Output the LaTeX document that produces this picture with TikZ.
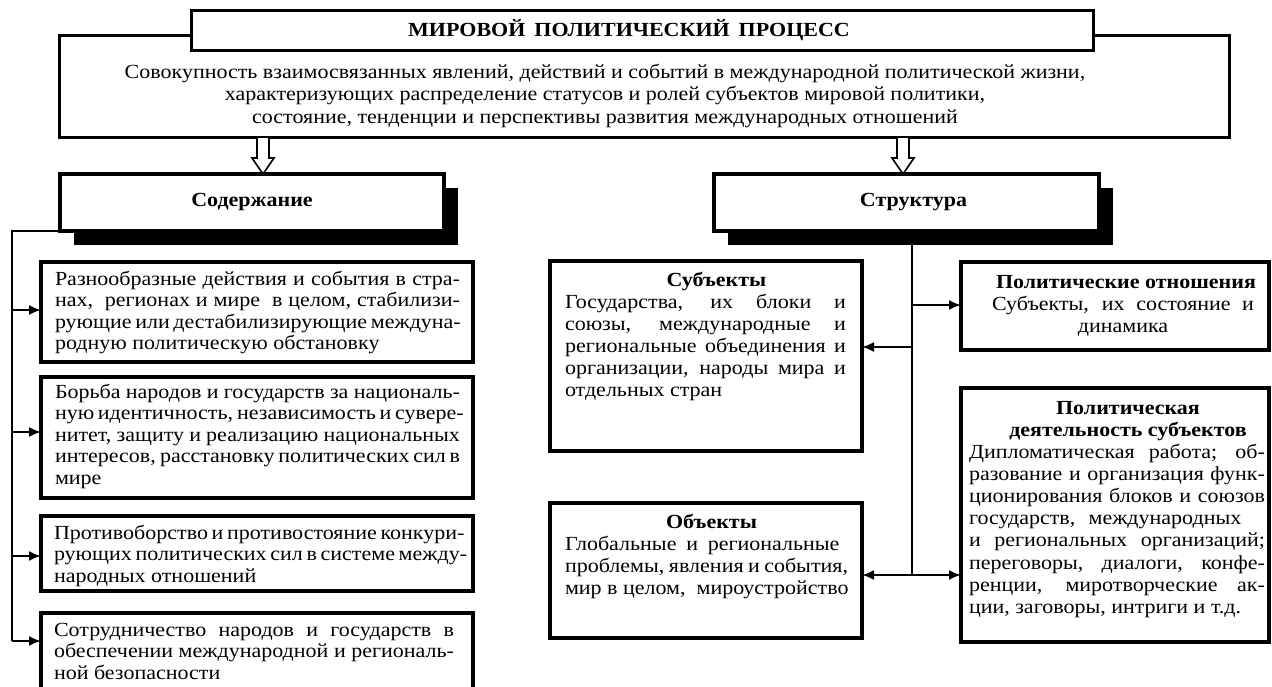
\documentclass[tikz,border=0pt]{standalone}
\usepackage{fontspec}
\setmainfont{Liberation Serif}[FakeStretch=1.1]
\usetikzlibrary{arrows.meta,shadows}
\newcommand\JL[1]{\makebox[\linewidth][s]{\spaceskip=0pt\xspaceskip=0pt\relax#1}}
\newcommand\NL[1]{\makebox[\linewidth][l]{\spaceskip=0pt\xspaceskip=0pt\relax#1}}
\newcommand\CL[1]{\makebox[\linewidth][c]{\spaceskip=0pt\xspaceskip=0pt\relax#1}}
\begin{document}
\begin{tikzpicture}[x=1pt,y=-1pt,
  every node/.style={inner sep=0pt, outer sep=0pt},
  frame/.style={draw, line width=4pt, fill=white, anchor=north west},
  thinframe/.style={draw, line width=3pt, fill=white, anchor=north west},
  shad/.style={drop shadow={shadow xshift=14pt, shadow yshift=-14pt, opacity=1, fill=black}},
  txt/.style={anchor=base west, align=left, font=\fontsize{20}{21.6}\selectfont},
  rtxt/.style={anchor=base west, align=left, font=\fontsize{20}{22.15}\selectfont},
  head/.style={font=\fontsize{20}{22}\selectfont\bfseries},
  conn/.style={line width=2pt},
  arr/.style={line width=2pt, -{Latex[length=12pt,width=10pt]}},
  hollow/.style={draw, line width=1.6pt, fill=white}]
\useasboundingbox (0,0) rectangle (1272,686);

% top block
\node[thinframe, minimum width=1170pt, minimum height=102pt] (desc) at (59,35) {};
\node[thinframe, minimum width=902pt, minimum height=40pt,
      font=\fontsize{20}{22}\selectfont\bfseries] (title) at (191,10)
      {\hspace*{-26pt}МИРОВОЙ\hspace{0.45em}ПОЛИТИЧЕСКИЙ\hspace{0.45em}ПРОЦЕСС};
\node[anchor=base, text width=1060pt, align=left, font=\fontsize{20}{22.5}\selectfont] (desct) at (605,78)
  {\CL{Совокупность взаимосвязанных явлений, действий и событий в международной политической жизни,}\\
   \CL{характеризующих распределение статусов и ролей субъектов мировой политики,}\\
   \CL{состояние, тенденции и перспективы развития международных отношений}};

% hollow arrows
\coordinate (hA) at (263,137);
\coordinate (hB) at (903,137);
\draw[hollow] (hA) ++(-6,0) -- ++(12,0) -- ++(0,21) -- ++(5,0) -- ++(-11,16) -- ++(-11,-16) -- ++(5,0) -- cycle;
\draw[hollow] (hB) ++(-6,0) -- ++(12,0) -- ++(0,21) -- ++(5,0) -- ++(-11,16) -- ++(-11,-16) -- ++(5,0) -- cycle;

% headings
\node[frame, shad, head, minimum width=384pt, minimum height=57pt] (cont) at (60,174) {Содержание};
\node[frame, shad, head, minimum width=385pt, minimum height=57pt] (str) at (714,174) {\hspace*{14pt}Структура};

% left column
\node[frame, minimum width=432pt, minimum height=100pt] (b1) at (41,262) {};
\node[frame, minimum width=432pt, minimum height=121pt] (b2) at (41,377) {};
\node[frame, minimum width=432pt, minimum height=75pt] (b3) at (41,516) {};
\node[frame, minimum width=432pt, minimum height=86pt] (b4) at (41,613) {};

\node[txt, text width=405pt] (t1) at (55,285)
  {\JL{Разнообразные действия и события в стра-}\\
   \JL{нах,\ \ регионах и мире\ \ в целом, стабилизи-}\\
   \JL{рующие или дестабилизирующие междуна-}\\
   \NL{родную политическую обстановку}};
\node[txt, text width=405pt] (t2) at (55,398)
  {\JL{Борьба народов и государств за националь-}\\
   \JL{ную идентичность, независимость и сувере-}\\
   \JL{нитет, защиту и реализацию национальных}\\
   \JL{интересов, расстановку политических сил в}\\
   \NL{мире}};
\node[txt, text width=405pt] (t3) at (54,539)
  {\JL{Противоборство и противостояние конкури-}\\
   \JL{рующих политических сил в системе между-}\\
   \NL{народных отношений}};
\node[txt, text width=400pt] (t4) at (54,636)
  {\JL{Сотрудничество народов и государств в}\\
   \JL{обеспечении международной и региональ-}\\
   \NL{ной безопасности}};

\coordinate (L0) at (12,231);
\coordinate (L1) at (12,310);
\coordinate (L2) at (12,432);
\coordinate (L3) at (12,556);
\coordinate (L4) at (12,641);
\draw[conn] (cont.south west) -- (L0) -- (L4);
\draw[arr] (L1) -- (L1 -| b1.west);
\draw[arr] (L2) -- (L2 -| b2.west);
\draw[arr] (L3) -- (L3 -| b3.west);
\draw[arr] (L4) -- (L4 -| b4.west);

% right side
\node[frame, minimum width=312pt, minimum height=190pt] (sub) at (550,261) {};
\node[frame, minimum width=312pt, minimum height=135pt] (obj) at (550,503) {};
\node[frame, minimum width=308pt, minimum height=88pt] (rel) at (961,262) {};
\node[frame, minimum width=308pt, minimum height=254pt] (act) at (961,388) {};

\node[rtxt, text width=281pt] (subt) at (565,286)
  {\CL{\bfseries\hspace*{22pt}Субъекты}\\
   \JL{Государства, их блоки и}\\
   \JL{союзы, международные и}\\
   \JL{региональные объединения и}\\
   \JL{организации, народы мира и}\\
   \NL{отдельных стран}};
\node[rtxt, text width=283pt] (objt) at (565,528)
  {\CL{\bfseries\hspace*{10pt}Объекты}\\
   \makebox[0.97\linewidth][s]{\spaceskip=0pt\relax Глобальные и региональные}\\
   \JL{проблемы, явления и события,}\\
   \NL{мир в целом,\ \ мироустройство}};
\node[rtxt, text width=296pt] (relt) at (970,288)
  {\CL{\bfseries\hspace*{16pt}Политические отношения}\\
   \CL{\hspace*{10pt}\makebox[262pt][s]{\spaceskip=0pt\relax Субъекты, их состояние и}}\\
   \CL{\hspace*{10pt}динамика}};
\node[rtxt, text width=296pt] (actt) at (969,414)
  {\CL{\bfseries\hspace*{22pt}Политическая}\\
   \CL{\bfseries\hspace*{22pt}деятельность субъектов}\\
   \JL{Дипломатическая работа; об-}\\
   \JL{разование и организация функ-}\\
   \JL{ционирования блоков и союзов}\\
   \makebox[0.92\linewidth][s]{\spaceskip=0pt\relax государств, международных}\\
   \JL{и региональных организаций;}\\
   \JL{переговоры, диалоги, конфе-}\\
   \JL{ренции, миротворческие ак-}\\
   \NL{ции, заговоры, интриги и т.д.}};

\coordinate (R1) at (912,305);
\coordinate (R2) at (912,347);
\coordinate (R3) at (912,575);
\draw[conn] (str.south -| R1) -- (R3);
\draw[arr] (R1) -- (R1 -| rel.west);
\draw[arr] (R2) -- (R2 -| sub.east);
\draw[arr] (R3) -- (R3 -| obj.east);
\draw[arr] (R3) -- (R3 -| act.west);
\end{tikzpicture}
\end{document}
